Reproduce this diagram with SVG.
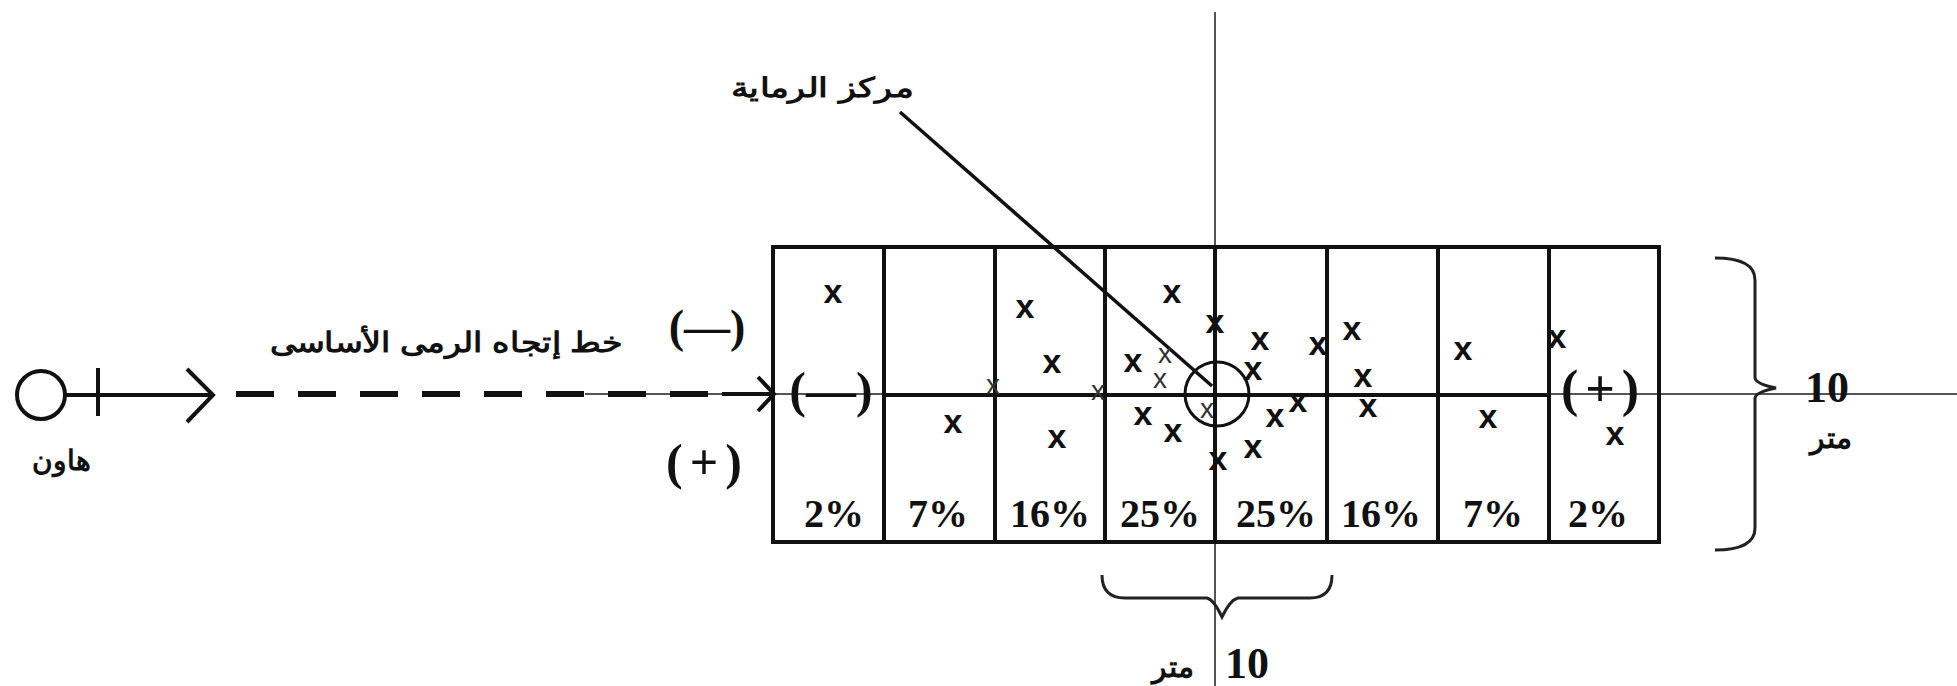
<svg xmlns="http://www.w3.org/2000/svg" width="1957" height="686" viewBox="0 0 1957 686">
<style>
.k{stroke:#111;fill:none;stroke-width:4}
.thin{stroke:#555;fill:none;stroke-width:2}
.ar{font-family:"Liberation Sans","Noto Sans",Arial,sans-serif;font-weight:bold;fill:#111}
.tm{font-family:"Liberation Serif","Times New Roman",serif;font-weight:bold;fill:#111}
.pr{font-family:"Liberation Serif","Times New Roman",serif;font-weight:bold;fill:#111;text-anchor:middle}
.pc{font-family:"Liberation Serif","Times New Roman",serif;font-weight:bold;fill:#111;font-size:40px;text-anchor:middle}
.x{font-family:"Liberation Sans",Arial,sans-serif;font-weight:bold;fill:#111;font-size:34px;text-anchor:middle}
.xs{font-family:"Liberation Sans",Arial,sans-serif;fill:#333;font-size:28px;text-anchor:middle}
</style>
<rect width="1957" height="686" fill="#fff"/>

<g id="connectors">
  <line class="thin" x1="1215" y1="12" x2="1215" y2="686"/>
  <line class="thin" x1="585" y1="394" x2="1957" y2="394"/>
  <line x1="236" y1="394" x2="722" y2="394" stroke="#111" stroke-width="6" stroke-dasharray="38 24"/>
  <line x1="722" y1="394" x2="772" y2="394" stroke="#111" stroke-width="4"/>
  <polyline class="k" points="758,377 774,394 758,411" stroke-width="3"/>
  <line x1="900" y1="112" x2="1212" y2="386" stroke="#111" stroke-width="3.5"/>
</g>

<g id="mortar">
  <circle class="k" cx="41" cy="395" r="24" stroke-width="5"/>
  <line class="k" x1="65" y1="395" x2="212" y2="395"/>
  <line class="k" x1="98" y1="368" x2="98" y2="416"/>
  <polyline class="k" points="187,369 213,395 187,422"/>
  <text class="ar" x="61" y="470" font-size="28" text-anchor="middle">هاون</text>
</g>

<g id="direction-label">
  <text class="ar" x="446" y="352" font-size="28" text-anchor="middle" textLength="353" lengthAdjust="spacingAndGlyphs">خط إتجاه الرمى الأساسى</text>
  <text class="pr" x="707" y="342" font-size="46">(—)</text>
  <text class="pr" x="704" y="479" font-size="50" textLength="76" lengthAdjust="spacing">(+)</text>
</g>

<g id="grid">
  <rect class="k" x="773" y="247" width="886" height="295"/>
  <line class="k" x1="884" y1="247" x2="884" y2="542"/>
  <line class="k" x1="995" y1="247" x2="995" y2="542"/>
  <line class="k" x1="1105" y1="247" x2="1105" y2="542"/>
  <line class="k" x1="1215" y1="247" x2="1215" y2="542" stroke-width="7"/>
  <line class="k" x1="1327" y1="247" x2="1327" y2="542"/>
  <line class="k" x1="1438" y1="247" x2="1438" y2="542"/>
  <line class="k" x1="1549" y1="247" x2="1549" y2="542" stroke-width="5"/>
  <line class="k" x1="882" y1="395" x2="1549" y2="395" stroke-width="5"/>
  <text class="pr" x="831" y="407" font-size="50">(—)</text>
  <text class="pr" x="1600" y="406" font-size="52" textLength="78" lengthAdjust="spacing">(+)</text>
  <text class="pc" x="834" y="527">2%</text>
  <text class="pc" x="938" y="527">7%</text>
  <text class="pc" x="1050" y="527">16%</text>
  <text class="pc" x="1160" y="527">25%</text>
  <text class="pc" x="1276" y="527">25%</text>
  <text class="pc" x="1381" y="527">16%</text>
  <text class="pc" x="1493" y="527">7%</text>
  <text class="pc" x="1598" y="527">2%</text>
</g>

<g id="impacts">
  <text class="x" x="833" y="303">x</text>
  <text class="x" x="1025" y="318">x</text>
  <text class="x" x="1052" y="373">x</text>
  <text class="xs" x="993" y="394">x</text>
  <text class="x" x="953" y="433">x</text>
  <text class="x" x="1057" y="448">x</text>
  <text class="xs" x="1098" y="400">x</text>
  <text class="x" x="1172" y="303">x</text>
  <text class="x" x="1133" y="372">x</text>
  <text class="xs" x="1165" y="363">x</text>
  <text class="xs" x="1160" y="388">x</text>
  <text class="x" x="1143" y="425">x</text>
  <text class="x" x="1173" y="442">x</text>
  <text class="x" x="1215" y="333">x</text>
  <text class="x" x="1260" y="350">x</text>
  <text class="x" x="1253" y="380">x</text>
  <text class="x" x="1318" y="355">x</text>
  <text class="x" x="1298" y="412">x</text>
  <text class="x" x="1275" y="427">x</text>
  <text class="x" x="1253" y="458">x</text>
  <text class="x" x="1218" y="470">x</text>
  <text class="xs" x="1207" y="418">x</text>
  <text class="x" x="1352" y="340">x</text>
  <text class="x" x="1363" y="387">x</text>
  <text class="x" x="1368" y="417">x</text>
  <text class="x" x="1463" y="360">x</text>
  <text class="x" x="1488" y="428">x</text>
  <text class="x" x="1557" y="348">x</text>
  <text class="x" x="1615" y="445">x</text>
</g>

<g id="firing-center">
  <circle cx="1217" cy="394" r="32" fill="none" stroke="#111" stroke-width="3"/>
  <text class="ar" x="822" y="97" font-size="27" text-anchor="middle" textLength="182" lengthAdjust="spacingAndGlyphs">مركز الرماية</text>
</g>

<g id="depth-brace">
  <path d="M1715,258 Q1755,258 1755,280 L1755,378 Q1756,384 1776,388 Q1756,392 1755,398 L1755,528 Q1755,550 1715,550" fill="none" stroke="#222" stroke-width="3"/>
  <text class="tm" x="1805" y="402" font-size="44">10</text>
  <text class="ar" x="1831" y="448" font-size="30" font-weight="normal" text-anchor="middle">متر</text>
</g>

<g id="width-brace">
  <path d="M1102,575 Q1102,598 1125,598 L1207,598 Q1214,600 1222,617 Q1230,600 1238,598 L1310,598 Q1332,598 1332,575" fill="none" stroke="#222" stroke-width="3"/>
  <text class="tm" x="1225" y="678" font-size="44">10</text>
  <text class="ar" x="1173" y="677" font-size="30" text-anchor="middle">متر</text>
</g>
</svg>
